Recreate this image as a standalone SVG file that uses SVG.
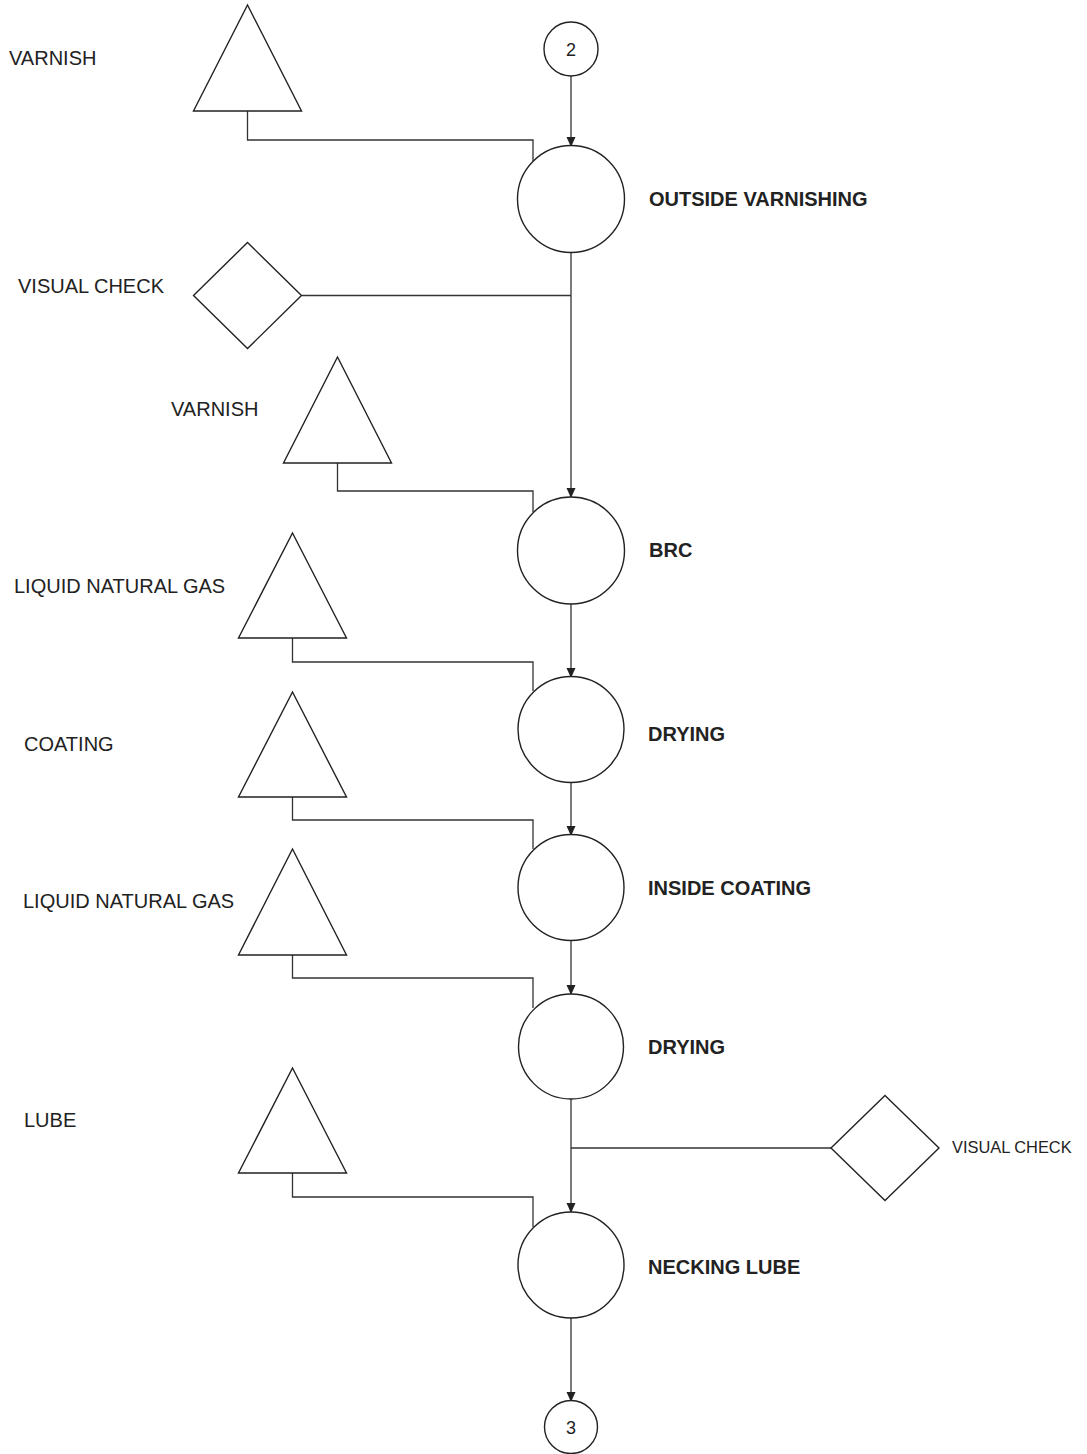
<svg xmlns="http://www.w3.org/2000/svg" width="1087" height="1454" viewBox="0 0 1087 1454">
<style>
.shape{fill:#fff;stroke:#222;stroke-width:1.4}
.conn{fill:none;stroke:#333;stroke-width:1.3}
.lbl{font-family:"Liberation Sans",Arial,sans-serif;font-size:20px;fill:#222}
.sm{font-size:16.4px}
.bold{font-weight:bold}
.num{font-family:"Liberation Sans",Arial,sans-serif;font-size:18px;fill:#222;text-anchor:middle}
</style>
<defs>
<marker id="arr" markerWidth="10" markerHeight="10" refX="9" refY="5" orient="auto" markerUnits="userSpaceOnUse">
<path d="M0,0.5 L10,5 L0,9.5 Z" fill="#222"/>
</marker>
</defs>
<rect width="1087" height="1454" fill="#fff"/>
<g id="connectors">
<path class="conn" d="M571,76 V146" marker-end="url(#arr)"/>
<path class="conn" d="M571,252 V497" marker-end="url(#arr)"/>
<path class="conn" d="M571,604 V677" marker-end="url(#arr)"/>
<path class="conn" d="M571,782 V835" marker-end="url(#arr)"/>
<path class="conn" d="M571,940 V994" marker-end="url(#arr)"/>
<path class="conn" d="M571,1099 V1212" marker-end="url(#arr)"/>
<path class="conn" d="M571,1318 V1401" marker-end="url(#arr)"/>
<path class="conn" d="M247.5,111 V140 H533 V161"/>
<path class="conn" d="M302,295.5 H571"/>
<path class="conn" d="M337.5,463 V491 H533 V512"/>
<path class="conn" d="M292.5,638 V662 H533 V691"/>
<path class="conn" d="M292.5,797 V820 H533 V849"/>
<path class="conn" d="M292.5,955 V978 H533 V1008"/>
<path class="conn" d="M571,1148 H831"/>
<path class="conn" d="M292.5,1173 V1197 H533 V1227"/>
</g>
<g id="n-conn2"><circle class="shape" cx="571" cy="49" r="27"/><text class="num" x="571" y="56">2</text></g>
<g id="n-outside"><circle class="shape" cx="571" cy="199" r="53.5"/><text class="lbl bold" x="649" y="206">OUTSIDE VARNISHING</text></g>
<g id="n-varnish1"><polygon class="shape" points="247.5,5 301.5,111 193.5,111"/><text class="lbl" x="9" y="65">VARNISH</text></g>
<g id="n-check1"><polygon class="shape" points="247.5,242.5 301.5,295.5 247.5,348.5 193.5,295.5"/><text class="lbl" x="18" y="293">VISUAL CHECK</text></g>
<g id="n-varnish2"><polygon class="shape" points="337.5,357 391.5,463 283.5,463"/><text class="lbl" x="171" y="416">VARNISH</text></g>
<g id="n-brc"><circle class="shape" cx="571" cy="550.5" r="53.5"/><text class="lbl bold" x="649" y="557">BRC</text></g>
<g id="n-lng1"><polygon class="shape" points="292.5,533 346.5,638 238.5,638"/><text class="lbl" x="14" y="593">LIQUID NATURAL GAS</text></g>
<g id="n-drying1"><circle class="shape" cx="571" cy="729.5" r="53"/><text class="lbl bold" x="648" y="741">DRYING</text></g>
<g id="n-coating"><polygon class="shape" points="292.5,692 346.5,797 238.5,797"/><text class="lbl" x="24" y="751">COATING</text></g>
<g id="n-inside"><circle class="shape" cx="571" cy="887.5" r="53"/><text class="lbl bold" x="648" y="895">INSIDE COATING</text></g>
<g id="n-lng2"><polygon class="shape" points="292.5,849 346.5,955 238.5,955"/><text class="lbl" x="23" y="908">LIQUID NATURAL GAS</text></g>
<g id="n-drying2"><circle class="shape" cx="571" cy="1046.5" r="52.5"/><text class="lbl bold" x="648" y="1054">DRYING</text></g>
<g id="n-check2"><polygon class="shape" points="885,1095.5 939,1148 885,1200.5 831,1148"/><text class="lbl sm" x="952" y="1153">VISUAL CHECK</text></g>
<g id="n-lube"><polygon class="shape" points="292.5,1068 346.5,1173 238.5,1173"/><text class="lbl" x="24" y="1127">LUBE</text></g>
<g id="n-necking"><circle class="shape" cx="571" cy="1265" r="53"/><text class="lbl bold" x="648" y="1274">NECKING LUBE</text></g>
<g id="n-conn3"><circle class="shape" cx="571" cy="1427" r="26.5"/><text class="num" x="571" y="1434">3</text></g>
</svg>
